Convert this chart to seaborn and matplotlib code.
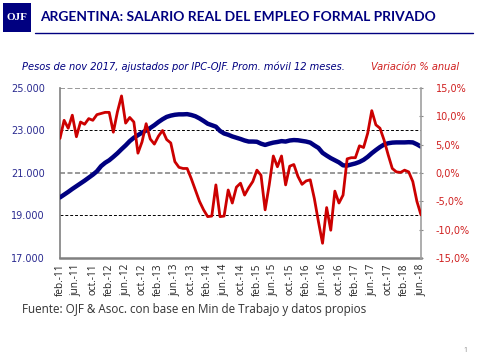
import matplotlib
matplotlib.use("Agg")
import matplotlib.pyplot as plt
import seaborn as sns
import pandas as pd
import numpy as np
from matplotlib.patches import Rectangle
from matplotlib.lines import Line2D

# ---- data ----
salario = [19850, 19980, 20110, 20250, 20380, 20510, 20640, 20780, 20920, 21080,
           21320, 21480, 21600, 21760, 21930, 22120, 22300, 22500, 22660, 22780,
           22900, 23000, 23120, 23250, 23400, 23530, 23640, 23700, 23740, 23760,
           23760, 23770, 23730, 23670, 23570, 23450, 23320, 23250, 23180, 22980,
           22860, 22800, 22720, 22660, 22600, 22530, 22480, 22480, 22470, 22380,
           22320, 22380, 22430, 22460, 22500, 22480, 22530, 22550, 22540, 22510,
           22480, 22430, 22300, 22180, 21950, 21820, 21700, 21600, 21500, 21360,
           21350, 21400, 21450, 21520, 21620, 21760, 21930, 22080, 22220, 22340,
           22400, 22430, 22440, 22440, 22440, 22450, 22440, 22350, 22240]
variacion = [6.1, 9.3, 7.9, 10.2, 6.4, 9.0, 8.6, 9.6, 9.3, 10.3,
             10.5, 10.7, 10.7, 7.2, 10.8, 13.6, 8.8, 9.8, 9.0, 3.5,
             5.5, 8.7, 6.0, 5.1, 6.5, 7.5, 5.9, 5.3, 2.0, 1.0,
             0.8, 0.8, -1.0, -3.0, -5.0, -6.5, -7.7, -7.6, -2.1, -7.7,
             -7.6, -3.0, -5.3, -2.5, -1.8, -3.9, -2.6, -1.5, 0.5, -0.4,
             -6.5, -2.1, 3.0, 1.1, 3.0, -2.1, 1.2, 1.5, -0.6, -2.0,
             -1.4, -1.2, -4.5, -8.6, -12.4, -6.1, -10.1, -3.2, -5.3, -3.9,
             2.5, 2.7, 2.7, 4.8, 4.5, 7.0, 11.0, 8.5, 7.9, 5.8,
             3.2, 0.8, 0.2, 0.1, 0.5, 0.2, -1.5, -5.0, -7.4]
xtick_labels = ["feb.-11", "jun.-11", "oct.-11", "feb.-12", "jun.-12", "oct.-12",
                "feb.-13", "jun.-13", "oct.-13", "feb.-14", "jun.-14", "oct.-14",
                "feb.-15", "jun.-15", "oct.-15", "feb.-16", "jun.-16", "oct.-16",
                "feb.-17", "jun.-17", "oct.-17", "feb.-18", "jun.-18"]
left_ticks = [17000, 19000, 21000, 23000, 25000]
left_labels = ["17.000", "19.000", "21.000", "23.000", "25.000"]
right_ticks = [-15, -10, -5, 0, 5, 10, 15]
right_labels = ["-15,0%", "-10,0%", "-5,0%", "0,0%", "5,0%", "10,0%", "15,0%"]

title = "ARGENTINA: SALARIO REAL DEL EMPLEO FORMAL PRIVADO"
subtitle_left = "Pesos de nov 2017, ajustados por IPC-OJF. Prom. móvil 12 meses."
subtitle_right = "Variación % anual"
source = "Fuente: OJF & Asoc. con base en Min de Trabajo y datos propios"

NAVY = "#000080"
RED = "#CC0000"
FONT = ["Open Sans", "DejaVu Sans"]
VFONT = ["DejaVu Sans"]

sns.set_style("white")
plt.rcParams['font.family'] = FONT

df = pd.DataFrame({"idx": np.arange(len(salario)), "salario": salario, "variacion": variacion})

fig = plt.figure(figsize=(4.8, 3.6), dpi=100)
ax = fig.add_axes([60/480, 1-258/360, (421-60)/480, (258-88)/360])
ax2 = ax.twinx()

sns.lineplot(data=df, x="idx", y="salario", ax=ax, color=NAVY, linewidth=3.2, zorder=3)
sns.lineplot(data=df, x="idx", y="variacion", ax=ax2, color=RED, linewidth=2.0, zorder=4)

ax.set_xlim(0, len(salario) - 1)
ax.set_ylim(17000, 25000)
ax2.set_ylim(-15, 15)

ax.set_xticks(np.arange(0, len(salario), 4))
ax.set_xticklabels(xtick_labels, rotation=90, fontsize=7.2, color="#222222")
ax.set_yticks(left_ticks)
ax.set_yticklabels(left_labels, fontsize=7, color="#2A2A90", family=VFONT)
ax2.set_yticks(right_ticks)
ax2.set_yticklabels(right_labels, fontsize=7, color="#D02020", family=VFONT)
ax.set_xlabel("")
ax.set_ylabel("")
ax2.set_ylabel("")
ax.tick_params(axis="x", length=3, pad=1, color="#888888")
ax.tick_params(axis="y", length=0, pad=11)
ax2.tick_params(axis="y", length=3, direction="inout", color="#888888", pad=9)

for y in [19000, 23000]:
    ax.axhline(y, color="black", linestyle=(0, (3, 2)), linewidth=0.7, zorder=1)
for y in [21000, 25000]:
    ax.axhline(y, color="#888888", linestyle=(0, (3, 1.5)), linewidth=1.2, zorder=1)

for side in ["left", "right", "bottom", "top"]:
    for a in (ax, ax2):
        a.spines[side].set_visible(False)
ax.spines["left"].set_visible(True)
ax.spines["left"].set_color("#808080")
ax.spines["left"].set_linewidth(1.2)
ax.spines["bottom"].set_visible(True)
ax.spines["bottom"].set_color("#808080")
ax.spines["bottom"].set_linewidth(1.8)
ax2.spines["right"].set_visible(True)
ax2.spines["right"].set_color("#A0A0A0")
ax2.spines["right"].set_linewidth(1.2)

# header
fig.patches.append(Rectangle((3/480, 1-32/360), 28/480, 29/360, transform=fig.transFigure,
                             facecolor=NAVY, edgecolor="none"))
fig.text(17/480, 1-18/360, "OJF", color="white", fontsize=8, fontweight="bold",
         family=["Liberation Serif", "DejaVu Serif"], ha="center", va="center")
fig.text(40/480, 1-17/360, title, color=NAVY, fontsize=9.9, fontweight="bold",
         family=["Lato", "DejaVu Sans"], ha="left", va="center")
fig.lines.append(Line2D([35/480, 473/480], [1-32.5/360, 1-32.5/360], transform=fig.transFigure,
                        color=NAVY, linewidth=1.0))

fig.text(22/480, 1-67/360, subtitle_left, color=NAVY, fontsize=7.1, style="italic",
         family=VFONT, ha="left", va="center")
fig.text(459/480, 1-67/360, subtitle_right, color="#D02020", fontsize=7.1, style="italic",
         family=VFONT, ha="right", va="center")
fig.text(22/480, 1-309/360, source, color="#333333", fontsize=8.4, ha="left", va="center")
fig.text(465/480, 1-351/360, "1", color="#888888", fontsize=5, ha="center", va="center")

fig.savefig("out.png", dpi=100)
